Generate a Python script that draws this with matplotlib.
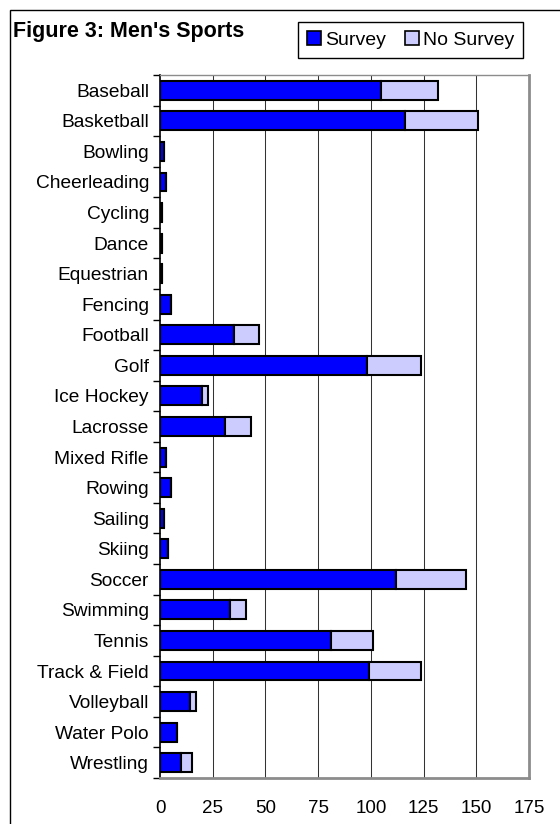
import matplotlib
matplotlib.use("Agg")
import matplotlib.pyplot as plt
from matplotlib.patches import Rectangle, Patch

plt.rcParams['font.family'] = ['Liberation Sans', 'DejaVu Sans']

sports = ["Baseball", "Basketball", "Bowling", "Cheerleading", "Cycling", "Dance",
          "Equestrian", "Fencing", "Football", "Golf", "Ice Hockey", "Lacrosse",
          "Mixed Rifle", "Rowing", "Sailing", "Skiing", "Soccer", "Swimming",
          "Tennis", "Track & Field", "Volleyball", "Water Polo", "Wrestling"]
survey = [105, 116, 2, 3, 1, 1, 1, 5, 35, 98, 20, 31, 3, 5, 2, 4, 112, 33, 81, 99, 14, 8, 10]
no_survey = [27, 35, 0, 0, 0, 0, 0, 0, 12, 26, 3, 12, 0, 0, 0, 0, 33, 8, 20, 25, 3, 0, 5]
x_ticks = [0, 25, 50, 75, 100, 125, 150, 175]

W, H = 560, 824
fig = plt.figure(figsize=(W / 100, H / 100), dpi=100)
fig.patch.set_facecolor("white")

# outer chart frame
fig.patches.append(Rectangle((10 / W, -0.1), 2, 1 - 10 / H + 0.1, transform=fig.transFigure,
                             fill=False, edgecolor="black", linewidth=1.0))

ax = fig.add_axes([160 / W, 1 - 778 / H, (529 - 160) / W, (778 - 75) / H])

y = list(range(len(sports)))
ax.barh(y, survey, height=0.62, color="#0000FF", edgecolor="black", linewidth=1.5,
        label="Survey", zorder=3)
ax.barh(y, no_survey, left=survey, height=0.62, color="#CCCCFF", edgecolor="black",
        linewidth=1.5, label="No Survey", zorder=3)

ax.set_xlim(0, 175)
ax.set_ylim(len(sports) - 0.5, -0.5)
ax.set_xticks(x_ticks)
ax.set_xticklabels([str(t) for t in x_ticks], fontsize=13.5)
ax.tick_params(axis="x", length=0, pad=16)
ax.set_yticks(y)
ax.set_yticklabels(sports, fontsize=13.8)
ax.tick_params(axis="y", which="major", length=0, pad=8)
ax.set_yticks([i - 0.5 for i in range(len(sports) + 1)], minor=True)
ax.tick_params(axis="y", which="minor", length=5, width=1, color="black")

for t in x_ticks[1:-1]:
    ax.axvline(t, color="#333333", linewidth=0.75, zorder=1)

ax.spines["left"].set_color("black")
ax.spines["left"].set_linewidth(1.2)
for s in ("top", "right", "bottom"):
    ax.spines[s].set_color("#8c8c8c")
ax.spines["top"].set_linewidth(1.0)
ax.spines["right"].set_linewidth(2.0)
ax.spines["bottom"].set_linewidth(2.0)

fig.text(13 / W, 1 - 32 / H, "Figure 3: Men's Sports", fontsize=15.5, fontweight="bold",
         ha="left", va="center")

handles = [Patch(facecolor="#0000FF", edgecolor="black", linewidth=1.2),
           Patch(facecolor="#CCCCFF", edgecolor="black", linewidth=1.2)]
leg = fig.legend(handles, ["Survey", "No Survey"], loc="center",
                 bbox_to_anchor=(410.5 / W, 1 - 40 / H), ncol=2, fontsize=14,
                 frameon=True, fancybox=False, edgecolor="black", framealpha=1,
                 handlelength=0.7, handleheight=0.7, handletextpad=0.2,
                 columnspacing=1.0, borderpad=0.45, borderaxespad=0)
leg.get_frame().set_linewidth(1.0)

fig.savefig("out.png", dpi=100)
